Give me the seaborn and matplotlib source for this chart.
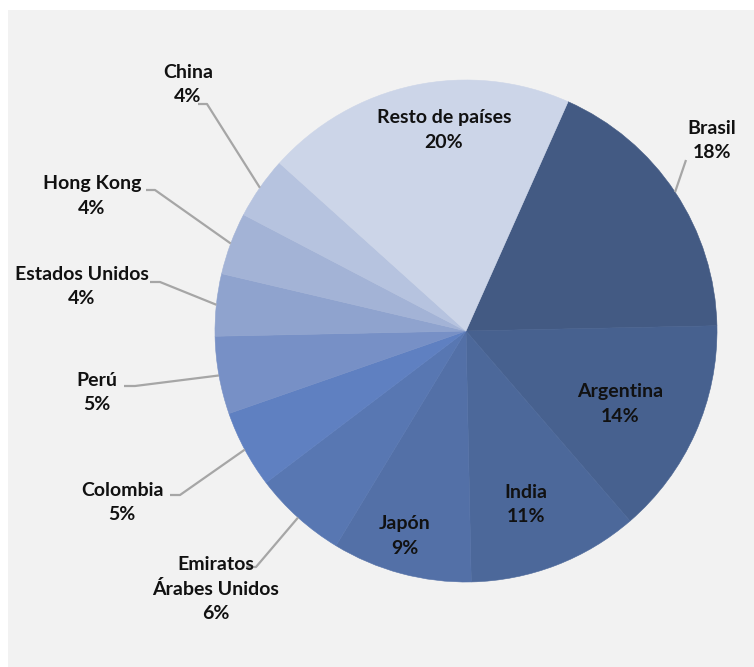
import numpy as np
import matplotlib
matplotlib.use("Agg")
import matplotlib.pyplot as plt
import seaborn as sns
from matplotlib.patches import Rectangle

# ---- data ----
countries = ["Brasil", "Argentina", "India", "Japón", "Emiratos\nÁrabes Unidos",
             "Colombia", "Perú", "Estados Unidos", "Hong Kong", "China", "Resto de países"]
shares = [18, 14, 11, 9, 6, 5, 5, 4, 4, 4, 20]
colors = ["#435A83", "#47618F", "#4C689A", "#5370A7", "#5877B2", "#5F80C1",
          "#7790C6", "#8FA3CE", "#A3B3D6", "#B6C3DF", "#CCD5E8"]

# ---- layout (pixel coordinates of the 754x667 canvas) ----
W, H = 754, 667
CX, CY, R = 466, 331, 251
# label placement: (text center x, text center y, inside?, knee x, knee y)
label_layout = {
    "Brasil": (712, 140, False, 686, 160),
    "Argentina": (620, 404, True, None, None),
    "India": (526, 505, True, None, None),
    "Japón": (405, 536, True, None, None),
    "Emiratos\nÁrabes Unidos": (216, 589, False, 256, 567),
    "Colombia": (122, 502, False, 180, 495),
    "Perú": (97, 393, False, 135, 386),
    "Estados Unidos": (82, 287, False, 160, 282),
    "Hong Kong": (92, 196, False, 155, 190),
    "China": (188, 85, False, 207, 104),
    "Resto de países": (444, 130, True, None, None),
}
line_starts = {
    "Emiratos\nÁrabes Unidos": 246, "Colombia": 170, "Perú": 124,
    "Estados Unidos": 150, "Hong Kong": 146, "China": 198,
}

sns.set_theme(style="white")
plt.rcParams["font.family"] = ["Lato", "DejaVu Sans"]

fig = plt.figure(figsize=(W / 100, H / 100), dpi=100)
fig.patch.set_facecolor("white")
ax = fig.add_axes([0, 0, 1, 1])

def py(y):
    return H - y

ax.add_patch(Rectangle((8, 0), W - 8, py(10), facecolor="#F2F2F2", edgecolor="none", zorder=0))

wedges, _ = ax.pie(shares, colors=colors, startangle=66, counterclock=False,
                   center=(CX, py(CY)), radius=R, frame=True,
                   wedgeprops=dict(linewidth=0.4))
for w, c in zip(wedges, colors):
    w.set_edgecolor(c)
ax.set_xlim(0, W)
ax.set_ylim(0, H)
ax.set_aspect("equal")
ax.axis("off")

txt_kw = dict(ha="center", va="center", fontsize=14, fontweight="bold",
              color="#111111", linespacing=1.5)

for name, val, w in zip(countries, shares, wedges):
    tx, ty, inside, kx, ky = label_layout[name]
    ax.text(tx, py(ty), f"{name}\n{val}%", zorder=5, **txt_kw)
    if not inside:
        theta = np.deg2rad((w.theta1 + w.theta2) / 2)
        ex = CX + R * np.cos(theta)
        ey = py(CY) + R * np.sin(theta)
        if name == "Brasil":
            xs = [kx, ex]
            ys = [py(ky), ey]
        else:
            sx = line_starts[name]
            xs = [sx, kx, ex]
            ys = [py(ky), py(ky), ey]
        ax.plot(xs, ys, color="#A6A6A6", lw=1.6, zorder=4, solid_capstyle="butt")

fig.savefig("out.png", dpi=100, facecolor=fig.get_facecolor())
